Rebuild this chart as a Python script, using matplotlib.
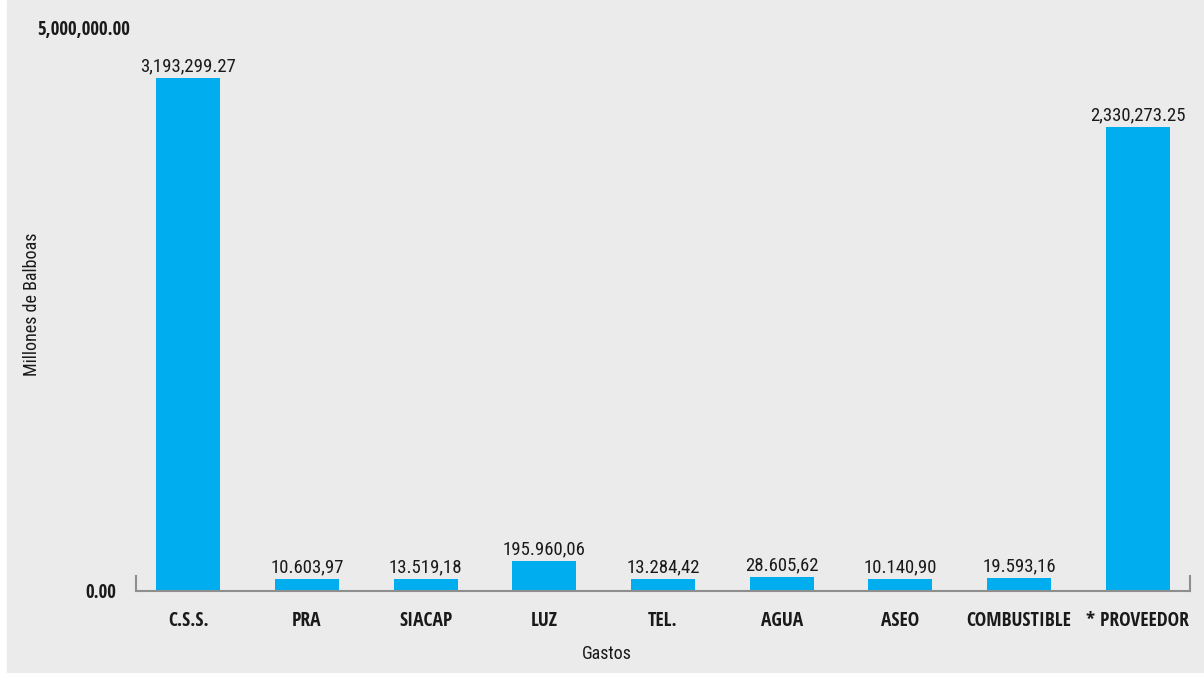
import matplotlib
matplotlib.use("Agg")
import matplotlib.pyplot as plt
import matplotlib.transforms as mtransforms
from matplotlib.patches import Rectangle

# Categorías de gastos
categorias = ["C.S.S.", "PRA", "SIACAP", "LUZ", "TEL.", "AGUA", "ASEO",
              "COMBUSTIBLE", "* PROVEEDOR"]

# Etiquetas de valor tal como aparecen en el gráfico
etiquetas = ["3,193,299.27", "10.603,97", "13.519,18", "195.960,06", "13.284,42",
             "28.605,62", "10.140,90", "19.593,16", "2,330,273.25"]

# Altura de las barras (escala del eje 0 - 5,000,000)
alturas = [4540000, 106000, 106000, 265000, 106000, 124000, 106000, 115000, 4106000]

ticks_y = [0, 5000000]
ticks_y_txt = ["0.00", "5,000,000.00"]

negrita = ["Open Sans Condensed", "DejaVu Sans"]
normal = ["Roboto Condensed", "DejaVu Sans"]
plt.rcParams["font.family"] = negrita

fig = plt.figure(figsize=(12.04, 6.73), dpi=100, facecolor="white")
fig.patches.append(Rectangle((7 / 1204, 0), 1, 1, transform=fig.transFigure,
                             color="#ebebeb", zorder=-10))
ax = fig.add_axes([136 / 1204, 82 / 673, 1054 / 1204, 565 / 673])
ax.set_facecolor("none")

x = range(len(categorias))
ax.bar(x, alturas, width=0.54, color="#00adef")
for xi, h, t in zip(x, alturas, etiquetas):
    ax.annotate(t, (xi, h), xytext=(0, 2), textcoords="offset points",
                ha="center", va="bottom", fontsize=13.5, family=normal,
                color="#1a1a1a")

ax.set_xlim(-0.44, 8.44)
ax.set_ylim(0, 5000000)
ax.set_xticks(list(x))
ax.set_xticklabels(categorias, fontsize=14, fontweight="bold")
ax.set_yticks(ticks_y)
ax.set_yticklabels(ticks_y_txt, fontsize=13.5, fontweight="bold")
ax.tick_params(axis="both", length=0, colors="#1a1a1a")
ax.tick_params(axis="x", pad=14.5)
ax.tick_params(axis="y", pad=14)
# la etiqueta superior está algo más a la derecha
top_lbl = ax.get_yticklabels()[1]
top_lbl.set_transform(top_lbl.get_transform() +
                      mtransforms.ScaledTranslation(14 / 100, -1 / 100, fig.dpi_scale_trans))

ax.spines["top"].set_visible(False)
for s in ["left", "right", "bottom"]:
    ax.spines[s].set_color("#8e8e8e")
    ax.spines[s].set_linewidth(1.5)
ax.spines["left"].set_bounds(0, 135000)
ax.spines["right"].set_bounds(0, 135000)

fig.text(607 / 1204, 1 - 654 / 673, "Gastos", ha="center", va="center",
         fontsize=13, family=normal, color="#1a1a1a")
fig.text(32 / 1204, 1 - 304 / 673, "Millones de Balboas", rotation=90,
         ha="center", va="center", fontsize=13, family=normal, color="#1a1a1a")

fig.savefig("out.png", dpi=100, facecolor=fig.get_facecolor())
